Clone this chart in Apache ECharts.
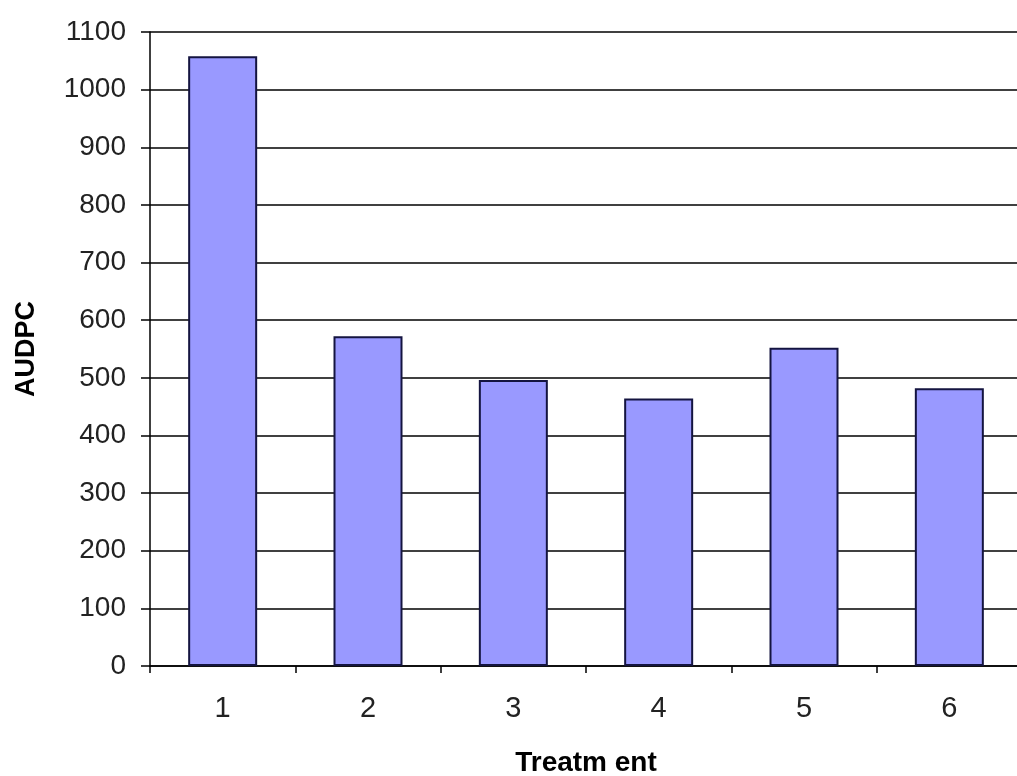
<!DOCTYPE html>
<html>
<head>
<meta charset="utf-8">
<script src="https://cdn.jsdelivr.net/npm/echarts@6/dist/echarts.min.js"></script>
<style>html,body{margin:0;padding:0;background:#fff;overflow:hidden;}#c{width:1017px;height:776px;}</style>
</head>
<body>
<div id="c"></div>
<script>
const categories = ['1', '2', '3', '4', '5', '6'];
const audpc = [1058, 572, 496, 464, 552, 482];

const chart = echarts.init(document.getElementById('c'));
chart.setOption({
  animation: false,
  backgroundColor: '#ffffff',
  grid: { left: 150, top: 32, bottom: 110, right: -5, containLabel: false, outerBoundsMode: 'none' },
  xAxis: {
    type: 'category',
    data: categories,
    name: 'Treatm ent',
    nameLocation: 'middle',
    nameGap: 83,
    nameTextStyle: { fontFamily: 'Liberation Sans', fontWeight: 'bold', fontSize: 28, color: '#000' },
    axisLine: { lineStyle: { color: '#000', width: 1.5 } },
    axisTick: { show: true, length: 7, lineStyle: { color: '#000', width: 1.5 } },
    axisLabel: { fontFamily: 'Liberation Sans', fontSize: 29, color: '#222', margin: 28 }
  },
  yAxis: {
    type: 'value',
    min: 0, max: 1100, interval: 100,
    name: 'AUDPC',
    nameLocation: 'middle',
    nameGap: 110,
    nameTextStyle: { fontFamily: 'Liberation Sans', fontWeight: 'bold', fontSize: 27, color: '#000' },
    axisLine: { show: true, lineStyle: { color: '#000', width: 1.5 } },
    axisTick: { show: true, length: 9, lineStyle: { color: '#000', width: 1.5 } },
    axisLabel: { fontFamily: 'Liberation Sans', fontSize: 28, color: '#222', margin: 24, formatter: function (v) { return String(v); } },
    splitLine: { show: true, lineStyle: { color: '#000', width: 1.5 } }
  },
  series: [{
    type: 'bar',
    data: audpc,
    barWidth: 69,
    itemStyle: { color: '#9999FF', borderColor: '#141440', borderWidth: 2 }
  }]
});
</script>
</body>
</html>
